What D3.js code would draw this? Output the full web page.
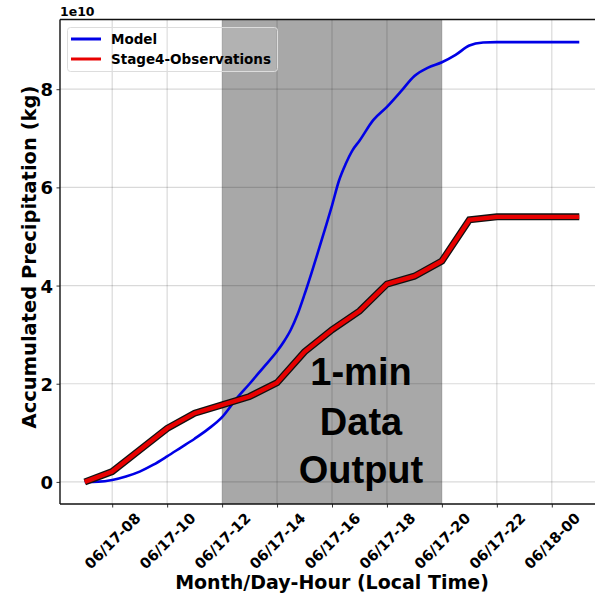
<!DOCTYPE html>
<html>
<head>
<meta charset="utf-8">
<script src="https://cdn.jsdelivr.net/npm/d3@7"></script>
<style>
  body { margin: 0; background: #fff; }
  svg { display: block; }
</style>
</head>
<body>
<div id="chart"></div>
<script>
// observed accumulated precipitation, hourly (units of 1e10 kg)
var obsHours = [7, 8, 9, 10, 11, 12, 13, 14, 15, 16, 17, 18, 19, 20, 21, 22, 23, 24, 25];
var obsValues = [0, 0.21, 0.65, 1.09, 1.40, 1.57, 1.74, 2.02, 2.65, 3.10, 3.48, 4.03, 4.19, 4.50, 5.34, 5.40, 5.40, 5.40, 5.40];

// model accumulated precipitation (units of 1e10 kg)
var modelHours = [7, 7.5, 8, 8.5, 9, 9.5, 10, 10.5, 11, 11.5, 12, 12.5, 13, 13.5, 14, 14.25, 14.5, 14.75,
  15, 15.25, 15.5, 15.75, 16, 16.25, 16.5, 16.75, 17, 17.5, 18, 18.5, 19, 19.5, 20, 20.5, 21, 21.5, 22, 23, 24, 25];
var modelValues = [0, 0.005, 0.04, 0.11, 0.21, 0.35, 0.52, 0.70, 0.88, 1.08, 1.32, 1.68, 2.00, 2.33, 2.66, 2.86, 3.10, 3.42,
  3.82, 4.25, 4.70, 5.16, 5.63, 6.13, 6.48, 6.76, 6.95, 7.37, 7.64, 7.95, 8.27, 8.44, 8.55, 8.70, 8.89, 8.95, 8.96, 8.96, 8.96, 8.96];

var xTicks = [8, 10, 12, 14, 16, 18, 20, 22, 24];
var xTickLabels = ["06/17-08", "06/17-10", "06/17-12", "06/17-14", "06/17-16", "06/17-18", "06/17-20", "06/17-22", "06/18-00"];
var yTicks = [0, 2, 4, 6, 8];
var shadeRange = [12, 20];

var W = 595, H = 598;
var pL = 60, pT = 19.5, pR = 604, pB = 504;
var bold = "'DejaVu Sans', sans-serif";

var svg = d3.select("#chart").append("svg")
  .attr("width", W).attr("height", H);

var x = d3.scaleLinear().domain([6.1, 25.9]).range([pL, pR]);
var y = d3.scaleLinear().domain([-0.45, 9.42]).range([pB, pT]);

// shaded 1-min output window
svg.append("rect")
  .attr("x", x(shadeRange[0])).attr("y", pT)
  .attr("width", x(shadeRange[1]) - x(shadeRange[0]))
  .attr("height", pB - pT)
  .attr("fill", "#a8a8a8");

// grid
var grid = svg.append("g").attr("stroke", "#000").attr("stroke-opacity", 0.15).attr("stroke-width", 1.2);
grid.selectAll(".gx").data(xTicks).enter().append("line")
  .attr("x1", d => x(d)).attr("x2", d => x(d)).attr("y1", pT).attr("y2", pB);
grid.selectAll(".gy").data(yTicks).enter().append("line")
  .attr("x1", pL).attr("x2", pR).attr("y1", d => y(d)).attr("y2", d => y(d));

// big annotation text
var note = svg.append("text")
  .attr("text-anchor", "middle")
  .attr("font-family", "'Liberation Sans', Arial, sans-serif")
  .attr("font-weight", "bold")
  .attr("font-size", 38)
  .attr("fill", "#000");
[["1-min", 385], ["Data", 435], ["Output", 483]].forEach(function (t) {
  note.append("tspan").attr("x", 361).attr("y", t[1]).text(t[0]);
});

// lines
var obs = obsHours.map((h, i) => [h, obsValues[i]]);
var model = modelHours.map((h, i) => [h, modelValues[i]]);

var lineObs = d3.line().x(d => x(d[0])).y(d => y(d[1]));
var lineModel = d3.line().x(d => x(d[0])).y(d => y(d[1])).curve(d3.curveMonotoneX);

svg.append("path").datum(model)
  .attr("d", lineModel).attr("fill", "none")
  .attr("stroke", "#0000e6").attr("stroke-width", 2.6);

svg.append("path").datum(obs)
  .attr("d", lineObs).attr("fill", "none")
  .attr("stroke", "#111").attr("stroke-width", 7).attr("stroke-linejoin", "miter");
svg.append("path").datum(obs)
  .attr("d", lineObs).attr("fill", "none")
  .attr("stroke", "#e80000").attr("stroke-width", 4.4).attr("stroke-linejoin", "miter");

// axes
var xAxis = svg.append("g")
  .attr("transform", "translate(0," + pB + ")")
  .call(d3.axisBottom(x).tickValues(xTicks).tickFormat((d, i) => xTickLabels[i]).tickSizeOuter(0).tickSize(3.5));
xAxis.select(".domain").remove();
xAxis.selectAll(".tick line").attr("stroke", "#333").attr("stroke-width", 1);
xAxis.selectAll(".tick text")
  .attr("x", 0).attr("y", 0).attr("dy", null)
  .attr("transform", "translate(0,37) rotate(-45)")
  .attr("text-anchor", "middle")
  .attr("dominant-baseline", "central")
  .attr("font-family", bold).attr("font-weight", "bold").attr("font-size", 14.5).attr("fill", "#000");

var yAxis = svg.append("g")
  .attr("transform", "translate(" + pL + ",0)")
  .call(d3.axisLeft(y).tickValues(yTicks).tickFormat(d3.format("d")).tickSizeOuter(0).tickSize(3.5));
yAxis.select(".domain").remove();
yAxis.selectAll(".tick line").attr("stroke", "#333").attr("stroke-width", 1);
yAxis.selectAll(".tick text")
  .attr("x", -7).attr("dy", "0.36em")
  .attr("font-family", bold).attr("font-weight", "bold").attr("font-size", 18).attr("fill", "#000");

// spines
var spine = svg.append("g").attr("stroke", "#111").attr("stroke-width", 1.4).attr("fill", "none");
spine.append("line").attr("x1", pL).attr("x2", pL).attr("y1", pT).attr("y2", pB);
spine.append("line").attr("x1", pL).attr("x2", pR).attr("y1", pB).attr("y2", pB);
spine.append("line").attr("x1", pL).attr("x2", pR).attr("y1", pT).attr("y2", pT);

// offset text
svg.append("text").attr("x", pL).attr("y", 16)
  .attr("font-family", bold).attr("font-weight", "bold").attr("font-size", 12.5).text("1e10");

// axis labels
svg.append("text")
  .attr("x", 332).attr("y", 589)
  .attr("text-anchor", "middle")
  .attr("font-family", bold).attr("font-weight", "bold").attr("font-size", 19)
  .text("Month/Day-Hour (Local Time)");

svg.append("text")
  .attr("transform", "translate(29,257) rotate(-90)")
  .attr("text-anchor", "middle")
  .attr("dominant-baseline", "central")
  .attr("font-family", bold).attr("font-weight", "bold").attr("font-size", 19.5)
  .text("Accumulated Precipitation (kg)");

// legend
var legend = svg.append("g");
legend.append("rect")
  .attr("x", 67.5).attr("y", 27.5).attr("width", 210).attr("height", 44).attr("rx", 3)
  .attr("fill", "#fff").attr("fill-opacity", 0.12)
  .attr("stroke", "#ddd").attr("stroke-width", 1);
var legendItems = [["Model", "#0000e6"], ["Stage4-Observations", "#e80000"]];
legendItems.forEach(function (d, i) {
  var ly = 39 + i * 20;
  legend.append("line").attr("x1", 71).attr("x2", 101).attr("y1", ly).attr("y2", ly)
    .attr("stroke", d[1]).attr("stroke-width", 3);
  legend.append("text").attr("x", 111).attr("y", ly + 5)
    .attr("font-family", bold).attr("font-weight", "bold").attr("font-size", 13.5).text(d[0]);
});
</script>
</body>
</html>
